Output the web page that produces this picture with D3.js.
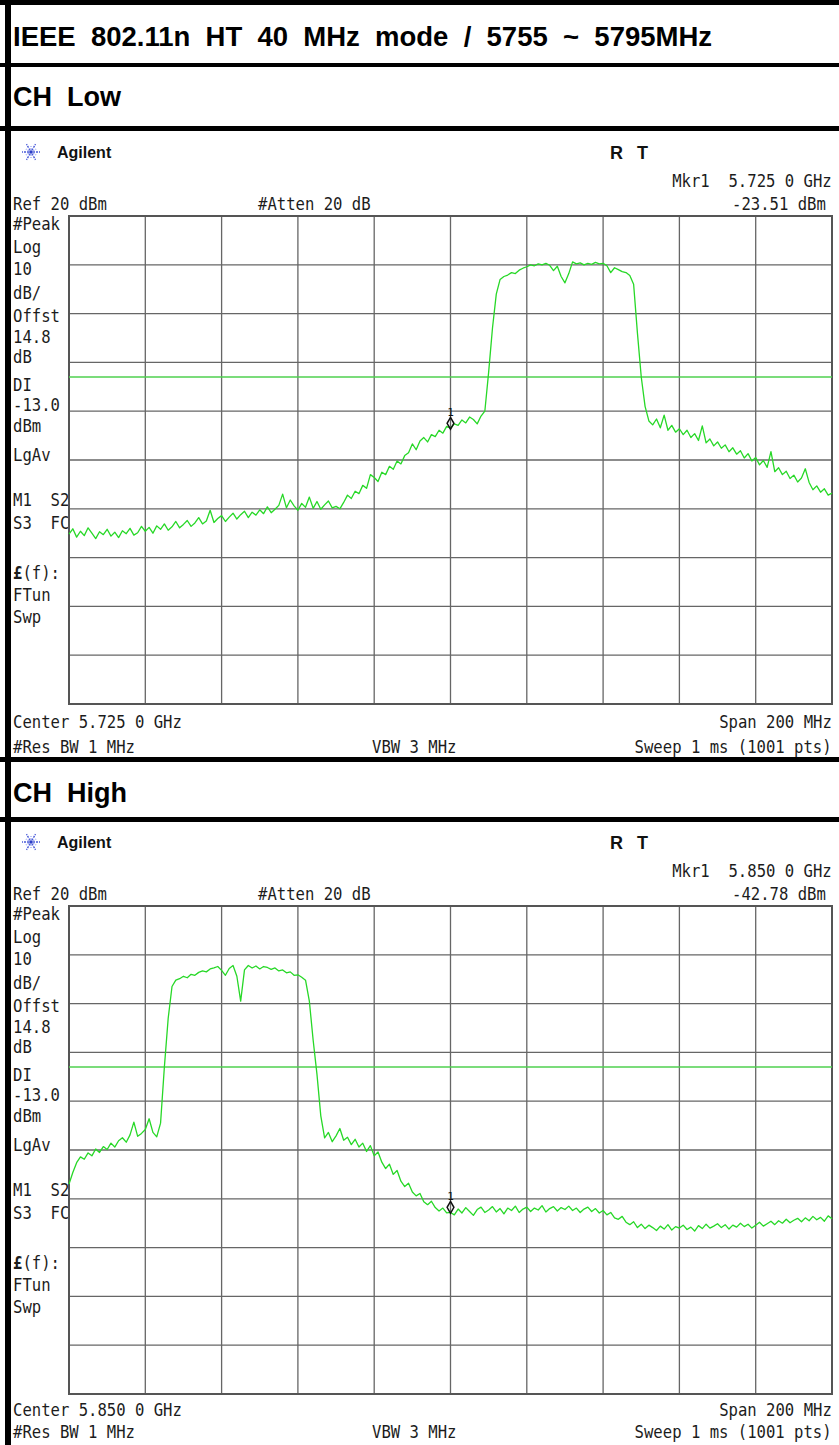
<!DOCTYPE html>
<html>
<head>
<meta charset="utf-8">
<script src="https://cdnjs.cloudflare.com/ajax/libs/d3/7.8.5/d3.min.js"></script>
<style>
body{margin:0;background:#fff}
text{white-space:pre}
.head{font-family:"Liberation Sans",Arial,sans-serif;font-weight:bold;font-size:27px;fill:#000}
.logo{font-family:"Liberation Sans",Arial,sans-serif;font-weight:bold;font-size:16px;fill:#111}
.mono{font-family:"DejaVu Sans Mono","Liberation Mono",monospace;font-size:15.6px;fill:#1c1c1c}
</style>
</head>
<body>
<div id="page"></div>
<script>
// trace values in dBm, one per MHz across the 200 MHz span
var lowTrace = [-45.2,-44.1,-45.8,-44.6,-45.5,-43.9,-45.0,-46.1,-44.7,-45.3,
  -44.2,-45.6,-44.8,-45.9,-44.5,-45.1,-44.0,-45.4,-44.9,-43.6,
  -44.6,-43.8,-45.0,-43.5,-44.2,-43.1,-44.4,-43.7,-42.6,-43.9,
  -43.2,-42.4,-43.6,-42.9,-41.8,-43.1,-42.5,-40.3,-42.8,-42.0,
  -41.4,-42.6,-41.7,-40.9,-42.1,-41.2,-40.5,-41.8,-40.7,-41.3,
  -40.2,-41.0,-39.6,-40.8,-40.1,-39.3,-37.0,-39.8,-38.2,-39.4,
  -40.3,-38.9,-39.7,-37.6,-39.9,-38.5,-40.1,-39.2,-38.4,-39.8,
  -39.5,-40.0,-38.7,-37.2,-37.9,-36.4,-36.9,-35.2,-35.8,-33.0,
  -33.6,-34.4,-32.5,-33.0,-31.3,-31.9,-30.2,-30.8,-29.1,-28.5,
  -26.7,-27.9,-26.1,-25.4,-26.3,-24.8,-25.2,-23.9,-24.5,-23.1,
  -23.5,-22.6,-22.9,-21.8,-22.4,-21.2,-21.7,-22.6,-21.0,-20.0,
  -12.0,-3.0,4.0,7.0,7.6,7.9,8.4,8.2,8.9,9.3,
  9.6,10.0,9.8,10.2,10.0,10.3,9.9,8.8,9.7,7.6,
  6.3,8.2,10.6,10.2,10.4,10.0,10.3,10.1,10.5,10.2,
  10.3,9.8,8.4,9.4,9.0,8.6,8.4,7.8,6.0,-4.0,
  -13.0,-19.0,-22.0,-22.8,-21.6,-23.4,-20.8,-23.9,-22.9,-24.3,
  -23.6,-24.8,-23.9,-25.4,-24.6,-26.0,-23.0,-26.5,-25.7,-27.1,
  -26.3,-27.6,-26.9,-28.3,-27.5,-28.8,-28.1,-29.6,-28.7,-30.2,
  -29.5,-31.0,-30.1,-31.5,-28.3,-32.4,-31.6,-33.0,-32.3,-33.8,
  -33.1,-34.5,-33.7,-31.8,-34.6,-36.1,-35.3,-36.6,-35.9,-37.2,
  -36.8]

var highTrace = [-37.0,-34.6,-32.6,-31.4,-31.9,-30.6,-31.2,-29.8,-30.5,-29.3,
  -29.9,-28.6,-29.4,-28.1,-27.5,-28.4,-26.9,-24.3,-27.2,-26.6,
  -25.8,-23.6,-26.4,-27.3,-24.5,-13.0,-3.0,3.5,4.8,5.1,
  5.6,5.3,6.0,5.8,6.4,6.7,6.5,7.1,7.3,7.6,
  6.8,5.8,7.2,7.8,5.6,0.5,6.9,7.8,7.3,7.7,
  7.1,7.6,7.4,7.0,7.3,6.7,6.9,6.3,6.5,5.8,
  5.9,5.4,4.8,0.5,-7.5,-14.5,-23.0,-27.5,-26.4,-28.3,
  -27.1,-25.6,-28.0,-27.4,-28.9,-27.8,-29.4,-28.6,-30.3,-29.1,
  -31.2,-30.4,-32.5,-33.8,-32.9,-35.0,-34.2,-36.4,-37.5,-36.8,
  -38.6,-39.4,-38.9,-40.6,-41.2,-40.5,-41.8,-42.5,-41.9,-42.9,
  -42.8,-43.3,-42.1,-42.9,-41.8,-42.6,-43.4,-42.2,-41.7,-42.8,
  -42.3,-41.6,-42.7,-42.0,-43.1,-41.9,-42.4,-41.5,-42.8,-42.1,
  -41.7,-42.6,-41.9,-42.3,-41.4,-42.7,-42.0,-41.6,-42.5,-41.8,
  -42.2,-41.5,-42.4,-41.9,-42.8,-42.1,-41.7,-42.6,-42.0,-42.9,
  -42.4,-43.3,-42.8,-43.9,-44.2,-43.6,-44.8,-45.3,-44.7,-45.9,
  -45.2,-46.1,-45.4,-45.9,-46.5,-45.6,-46.2,-45.3,-46.4,-45.7,
  -46.0,-45.4,-46.3,-45.8,-46.6,-45.5,-46.1,-45.2,-46.0,-45.6,
  -45.1,-45.9,-45.3,-46.2,-45.4,-45.8,-45.0,-45.7,-45.2,-46.0,
  -45.4,-44.8,-45.6,-45.1,-44.6,-45.3,-44.5,-45.0,-44.2,-44.9,
  -44.4,-44.0,-44.7,-43.9,-44.5,-43.6,-44.3,-43.8,-44.6,-43.5,
  -44.1]

var startMHz = [5625, 5750]
var spanMHz = 200
var refLevel = 20
var dbPerDiv = 10
var displayLine = -13
var markerMHz = [5725, 5850]
var markerDbm = [-23.51, -42.78]

var titleText = "IEEE  802.11n  HT  40  MHz  mode  /  5755  ~  5795MHz"
var channelNames = ["CH  Low", "CH  High"]
var mkrFreqText = ["Mkr1  5.725 0 GHz", "Mkr1  5.850 0 GHz"]
var mkrLevelText = ["-23.51 dBm", "-42.78 dBm"]
var centerText = ["Center 5.725 0 GHz", "Center 5.850 0 GHz"]
var sideLabels = ["#Peak","Log","10","dB/","Offst","14.8","dB","DI","-13.0","dBm","LgAv","M1  S2","S3  FC","£(f):","FTun","Swp"]
var sideOffsets = [7,30,52,76,99,120,140,168,188,209,238,283,306,356,378,400]

var W = 839, H = 1445
var charW = 9.4
var gridLeft = 69, gridRight = 832, gridH = 488
var gridTops = [216, 906]
var footRows = [[17,42],[15,37]]
var headBands = [[0,5],[63,4],[126,5],[757,5],[817,5]]

var svg = d3.select("#page").append("svg").attr("width",W).attr("height",H)
svg.append("rect").attr("width",W).attr("height",H).attr("fill","#fff")

// instrument font: narrow mono, stretched upward a bit
function monoText(g, str, x, yc, alignRight){
    var w = str.length*charW
    var x0 = alignRight ? x-w : x
    var t = g.append("text").attr("class","mono")
        .attr("transform","translate("+x0+","+(yc+6.5)+") scale(1,1.16)")
    if(str.charAt(0)=="£"){
        t.append("tspan").attr("font-weight","bold").text("£")
        t.append("tspan").text(str.slice(1))
    }
    else{
        t.text(str)
    }
}

function drawFrame(){
    headBands.forEach(function(b){
        svg.append("rect").attr("x",0).attr("y",b[0]).attr("width",W).attr("height",b[1]).attr("fill","#000")
    })
    svg.append("rect").attr("x",5).attr("y",0).attr("width",6).attr("height",H).attr("fill","#000")
    svg.append("text").attr("class","head").attr("x",13).attr("y",46)
        .attr("textLength",699).attr("lengthAdjust","spacingAndGlyphs").text(titleText)
    svg.append("text").attr("class","head").attr("x",13).attr("y",106).text(channelNames[0])
    svg.append("text").attr("class","head").attr("x",13).attr("y",802).text(channelNames[1])
}

function drawLogo(g, cx, cy){
    var rays = d3.range(12)
    g.selectAll("line.ray").data(rays).enter().append("line")
        .attr("class","ray")
        .attr("x1",function(d){return cx+Math.cos(d*Math.PI/6)*2})
        .attr("y1",function(d){return cy+Math.sin(d*Math.PI/6)*2})
        .attr("x2",function(d){return cx+Math.cos(d*Math.PI/6)*(d%2?6:9)})
        .attr("y2",function(d){return cy+Math.sin(d*Math.PI/6)*(d%2?6:9)})
        .attr("stroke",function(d){return d%2?"#a4aef0":"#4a5bd8"})
        .attr("stroke-width",1.4)
        .attr("stroke-dasharray","2,1")
    g.append("circle").attr("cx",cx).attr("cy",cy).attr("r",1.8).attr("fill","#2a3cc8")
}

function drawPanel(k, trace){
    var top = gridTops[k]
    var bottom = top + gridH
    var g = svg.append("g")

    var x = d3.scaleLinear().domain([startMHz[k], startMHz[k]+spanMHz]).range([gridLeft, gridRight])
    var y = d3.scaleLinear().domain([refLevel-10*dbPerDiv, refLevel]).range([bottom, top])

    drawLogo(g, 31, top-64)
    g.append("text").attr("class","logo").attr("x",57).attr("y",top-58).text("Agilent")
    g.append("text").attr("class","logo").attr("x",610).attr("y",top-57).style("font-size","18px").text("R")
    g.append("text").attr("class","logo").attr("x",637).attr("y",top-57).style("font-size","18px").text("T")

    monoText(g, mkrFreqText[k], gridRight, top-36, true)
    monoText(g, "Ref 20 dBm", 13, top-13)
    monoText(g, "#Atten 20 dB", 258, top-13)
    monoText(g, mkrLevelText[k], 826, top-13, true)
    sideLabels.forEach(function(s,i){
        monoText(g, s, 13, top+sideOffsets[i])
    })
    var f = footRows[k]
    monoText(g, centerText[k], 13, bottom+f[0])
    monoText(g, "Span 200 MHz", gridRight, bottom+f[0], true)
    monoText(g, "#Res BW 1 MHz", 13, bottom+f[1])
    monoText(g, "VBW 3 MHz", 372, bottom+f[1])
    monoText(g, "Sweep 1 ms (1001 pts)", gridRight, bottom+f[1], true)

    // graticule
    var vLines = d3.range(0, 11).map(function(d){return startMHz[k] + d*spanMHz/10})
    var hLines = d3.range(0, 11).map(function(d){return refLevel - d*dbPerDiv})
    g.selectAll("line.v").data(vLines).enter().append("line").attr("class","v")
        .attr("x1",function(d){return x(d)}).attr("x2",function(d){return x(d)})
        .attr("y1",top).attr("y2",bottom)
        .attr("stroke","#666").attr("stroke-width",1.3)
    g.selectAll("line.h").data(hLines).enter().append("line").attr("class","h")
        .attr("x1",gridLeft).attr("x2",gridRight)
        .attr("y1",function(d){return y(d)}).attr("y2",function(d){return y(d)})
        .attr("stroke","#666").attr("stroke-width",1.3)
    g.append("rect").attr("x",gridLeft).attr("y",top).attr("width",gridRight-gridLeft).attr("height",gridH)
        .attr("fill","none").attr("stroke","#555").attr("stroke-width",2)

    // display line
    g.append("line").attr("x1",gridLeft).attr("x2",gridRight)
        .attr("y1",y(displayLine)).attr("y2",y(displayLine))
        .attr("stroke","#4fd04f").attr("stroke-width",1.5)

    var line = d3.line()
        .x(function(d,i){return x(startMHz[k]+i)})
        .y(function(d){return y(d)})
    g.append("path").datum(trace).attr("d",line)
        .attr("fill","none").attr("stroke","#27d827").attr("stroke-width",1.3)
        .attr("stroke-linejoin","round")

    // marker 1
    var mx = x(markerMHz[k]), my = y(markerDbm[k])
    g.append("path").attr("d",d3.symbol().type(d3.symbolDiamond).size(40))
        .attr("transform","translate("+mx+","+(my-5)+")")
        .attr("fill","none").attr("stroke","#111").attr("stroke-width",1.5)
    g.append("text").attr("x",mx).attr("y",my-12).attr("text-anchor","middle")
        .attr("font-family","DejaVu Sans Mono, monospace").attr("font-size","11px").attr("fill","#111").text("1")
}

drawFrame()
drawPanel(0, lowTrace)
drawPanel(1, highTrace)
</script>
</body>
</html>
